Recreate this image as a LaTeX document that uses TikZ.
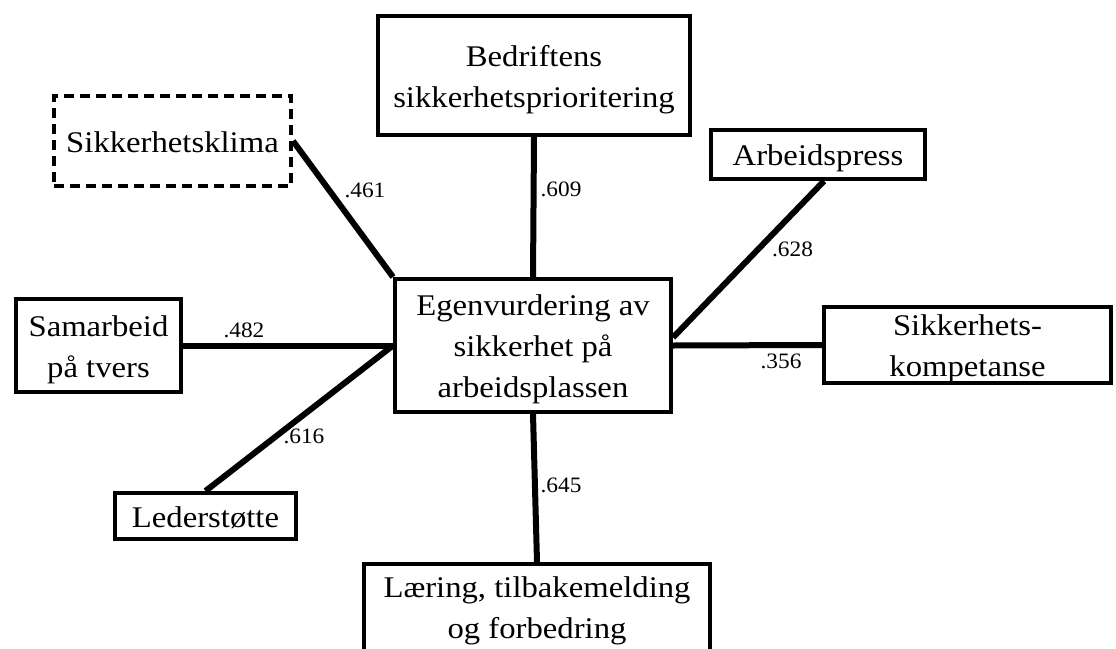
\documentclass[tikz,border=0pt]{standalone}
\usepackage{fontspec}
\setmainfont{Liberation Serif}
\newfontfamily\boxfont[FakeStretch=1.09]{Liberation Serif}
\newfontfamily\labfont[FakeStretch=1.06]{Liberation Serif}
\newcommand\bxstrut{\rule[-6.5pt]{0pt}{35pt}}
\newcommand\bxdeep{\rule[-31.5pt]{0pt}{60pt}}
\begin{document}
\begin{tikzpicture}[x=1pt,y=-1pt,
  bx/.style={draw, line width=4pt, fill=white, align=center, inner sep=0pt,
    font=\boxfont\fontsize{30}{41}\selectfont},
  dbx/.style={bx, dash pattern=on 10pt off 6pt},
  conn/.style={line width=6pt},
  lab/.style={font=\labfont\fontsize{22}{26}\selectfont, anchor=base, inner sep=0pt}]
\clip (0,0) rectangle (1116,648);
\fill[white] (0,0) rectangle (1116,648);

\node[bx, minimum width=312pt, minimum height=119pt] (bed) at (534,75.5) {\bxstrut Bedriftens\\\bxstrut sikkerhetsprioritering};
\node[dbx, minimum width=237pt, minimum height=90pt] (klima) at (172.5,141) {\bxstrut Sikkerhetsklima};
\node[bx, minimum width=214pt, minimum height=49pt] (arb) at (818,154.5) {\bxstrut Arbeidspress};
\node[bx, minimum width=276pt, minimum height=133pt] (ego) at (533,345.5) {\bxstrut Egenvurdering av\\\bxstrut sikkerhet på\\\bxstrut arbeidsplassen};
\node[bx, minimum width=165pt, minimum height=93pt] (sam) at (98.5,345.5) {\bxstrut Samarbeid\\\bxstrut på tvers};
\node[bx, minimum width=287pt, minimum height=72pt] (komp) at (967.5,345) {\bxstrut Sikkerhets-\\\bxstrut kompetanse};
\node[bx, minimum width=181pt, minimum height=46pt] (led) at (205.5,516) {\bxstrut Lederstøtte};
\node[bx, minimum width=346pt, minimum height=110pt] (laer) at (537,619) {\bxstrut Læring, tilbakemelding\\\bxdeep og forbedring};

\draw[conn] (klima.east) -- (ego.north west);
\draw[conn] (bed.south) -- (ego.north);
\draw[conn] ([xshift=6pt]arb.south) -- ([yshift=8pt]ego.east);
\draw[conn] (sam.east) -- (ego.west);
\draw[conn] (ego.east) -- (komp.west);
\draw[conn] (led.north) -- (ego.west);
\draw[conn] (ego.south) -- (laer.north);

\node[lab] (l461) at (365,197) {.461};
\node[lab] (l609) at (561,196) {.609};
\node[lab] (l628) at (792.5,256) {.628};
\node[lab] (l482) at (244,337) {.482};
\node[lab] (l356) at (781,368) {.356};
\node[lab] (l616) at (304,443) {.616};
\node[lab] (l645) at (561,492) {.645};
\end{tikzpicture}
\end{document}
